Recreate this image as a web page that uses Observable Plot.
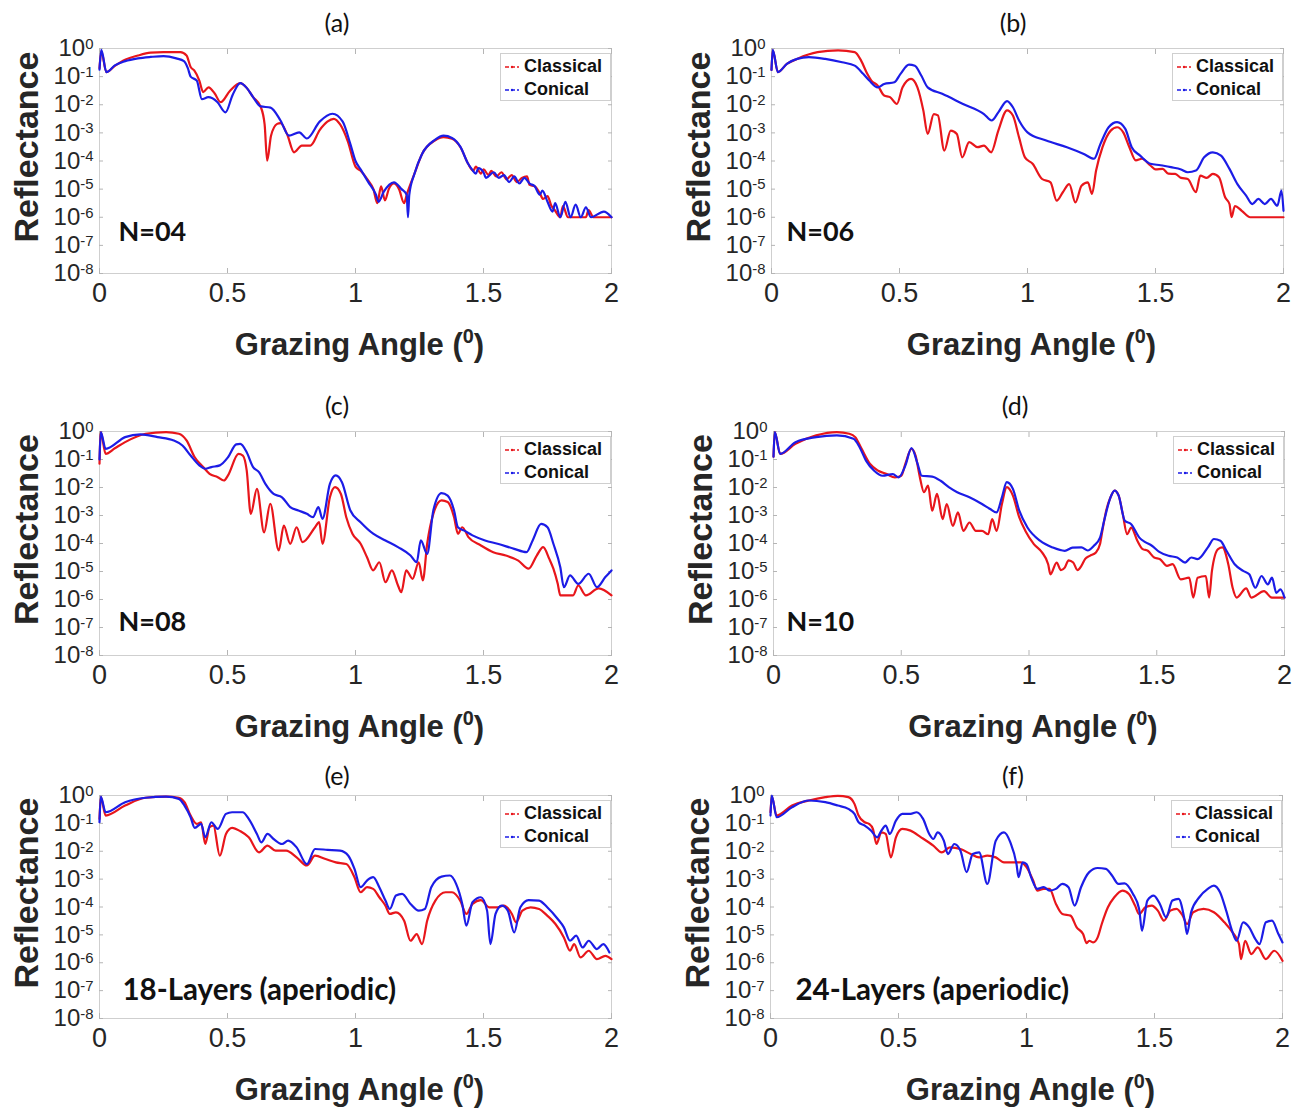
<!DOCTYPE html>
<html><head><meta charset="utf-8">
<script src="https://cdn.jsdelivr.net/npm/d3@7"></script>
<script src="https://cdn.jsdelivr.net/npm/@observablehq/plot@0.6"></script>
<style>
body{margin:0;background:#fff;}
#fig{position:relative;width:1301px;height:1111px;overflow:hidden;background:#fff;}
#fig svg.panel{position:absolute;overflow:visible;}
.ptitle{position:absolute;font-family:Lato,"Open Sans",sans-serif;font-size:25px;color:#111;transform:translate(-50%,-50%);white-space:nowrap;}
.legend{position:absolute;box-sizing:border-box;border:1px solid #cfcfcf;background:#fff;font-family:"Liberation Sans",Arial,sans-serif;font-weight:bold;font-size:18px;color:#111;padding:1px 3px;}
.legend .row{display:flex;align-items:center;height:23px;}
.legend svg{margin-right:4px;}
</style></head><body><div id="fig"></div><script>
// ---- data: [grazing angle (deg), log10(reflectance)] ----
const aClassical = [[0,-0.7],[0.007,-0.1],[0.027,-0.84],[0.06,-0.62],[0.1,-0.4],[0.15,-0.25],[0.2,-0.15],[0.25,-0.13],[0.316,-0.13],[0.34,-0.25],[0.356,-0.66],[0.37,-0.78],[0.39,-1.14],[0.405,-1.55],[0.426,-1.38],[0.45,-1.6],[0.473,-1.91],[0.51,-1.5],[0.55,-1.23],[0.575,-1.4],[0.6,-1.73],[0.63,-2.08],[0.645,-2.7],[0.655,-3.99],[0.67,-3.1],[0.694,-2.68],[0.707,-2.65],[0.733,-3.05],[0.76,-3.69],[0.79,-3.45],[0.824,-3.45],[0.86,-2.9],[0.89,-2.6],[0.915,-2.5],[0.94,-2.7],[0.97,-3.3],[1.0,-4.2],[1.02,-4.35],[1.05,-4.7],[1.07,-5.0],[1.085,-5.5],[1.1,-4.9],[1.115,-5.4],[1.13,-5.0],[1.15,-4.8],[1.17,-5.0],[1.19,-5.5],[1.2,-5.2],[1.23,-4.46],[1.26,-3.75],[1.31,-3.27],[1.344,-3.15],[1.377,-3.21],[1.41,-3.51],[1.44,-4.1],[1.46,-4.35],[1.47,-4.2],[1.49,-4.45],[1.5,-4.3],[1.52,-4.5],[1.53,-4.35],[1.55,-4.55],[1.57,-4.4],[1.59,-4.65],[1.61,-4.5],[1.63,-4.75],[1.65,-4.6],[1.67,-4.55],[1.68,-4.85],[1.7,-4.9],[1.72,-5.15],[1.733,-5.35],[1.75,-5.25],[1.765,-5.59],[1.78,-5.77],[1.8,-6],[1.81,-5.6],[1.83,-6],[1.9,-6],[1.91,-5.75],[1.93,-6],[2,-6]];
const aConical = [[0,-0.75],[0.007,-0.05],[0.027,-0.84],[0.06,-0.6],[0.1,-0.45],[0.15,-0.35],[0.2,-0.3],[0.25,-0.27],[0.3,-0.35],[0.33,-0.45],[0.345,-0.7],[0.356,-1.0],[0.38,-1.14],[0.4,-1.8],[0.425,-1.73],[0.46,-1.9],[0.492,-2.27],[0.52,-1.65],[0.55,-1.23],[0.575,-1.4],[0.6,-1.73],[0.63,-2.06],[0.668,-2.1],[0.707,-2.56],[0.74,-3.1],[0.78,-2.98],[0.81,-3.2],[0.86,-2.6],[0.91,-2.32],[0.95,-2.6],[0.98,-3.4],[1.0,-4.0],[1.02,-4.3],[1.05,-4.75],[1.08,-5.2],[1.09,-5.45],[1.11,-5.1],[1.15,-4.76],[1.18,-5.0],[1.2,-5.2],[1.205,-6.0],[1.21,-5.2],[1.23,-4.46],[1.26,-3.75],[1.31,-3.25],[1.344,-3.1],[1.377,-3.18],[1.41,-3.5],[1.44,-4.1],[1.455,-4.3],[1.47,-4.45],[1.48,-4.25],[1.5,-4.4],[1.51,-4.6],[1.54,-4.4],[1.56,-4.6],[1.58,-4.5],[1.6,-4.75],[1.62,-4.55],[1.64,-4.8],[1.66,-4.6],[1.68,-4.8],[1.7,-4.9],[1.72,-5.2],[1.73,-5.05],[1.75,-5.45],[1.77,-5.8],[1.78,-5.5],[1.8,-6],[1.82,-5.45],[1.84,-6],[1.86,-5.55],[1.88,-6],[1.9,-5.65],[1.92,-6],[1.97,-5.8],[2,-6]];

const bClassical = [[0,-0.76],[0.005,-0.07],[0.025,-0.84],[0.06,-0.55],[0.1,-0.37],[0.18,-0.13],[0.26,-0.07],[0.325,-0.13],[0.35,-0.43],[0.374,-0.9],[0.39,-1.14],[0.415,-1.32],[0.44,-1.67],[0.463,-1.73],[0.49,-1.97],[0.512,-1.38],[0.545,-1.08],[0.57,-1.38],[0.593,-2.2],[0.61,-3.04],[0.634,-2.33],[0.65,-2.38],[0.675,-3.63],[0.7,-2.92],[0.724,-3.04],[0.745,-3.87],[0.772,-3.33],[0.805,-3.51],[0.83,-3.45],[0.858,-3.69],[0.886,-2.92],[0.92,-2.2],[0.943,-2.38],[0.967,-3.16],[0.99,-3.87],[1.02,-4.1],[1.057,-4.64],[1.09,-4.76],[1.114,-5.41],[1.138,-5.11],[1.163,-4.82],[1.187,-5.47],[1.211,-4.88],[1.236,-4.76],[1.252,-5.17],[1.268,-4.34],[1.293,-3.51],[1.325,-2.92],[1.35,-2.8],[1.374,-2.98],[1.398,-3.51],[1.423,-3.98],[1.447,-3.92],[1.48,-4.16],[1.5,-4.3],[1.528,-4.28],[1.55,-4.45],[1.577,-4.46],[1.6,-4.6],[1.626,-4.64],[1.658,-5.11],[1.675,-4.52],[1.7,-4.6],[1.724,-4.46],[1.748,-4.58],[1.772,-5.29],[1.789,-5.53],[1.797,-6.0],[1.81,-5.6],[1.837,-5.77],[1.87,-6.0],[2,-6.0]];
const bConical = [[0,-0.76],[0.005,-0.05],[0.025,-0.84],[0.06,-0.55],[0.1,-0.37],[0.146,-0.31],[0.21,-0.37],[0.276,-0.49],[0.325,-0.61],[0.358,-0.9],[0.382,-1.14],[0.415,-1.38],[0.44,-1.26],[0.48,-1.2],[0.504,-0.9],[0.537,-0.57],[0.56,-0.61],[0.585,-0.96],[0.61,-1.38],[0.667,-1.61],[0.748,-1.97],[0.83,-2.33],[0.86,-2.56],[0.886,-2.27],[0.92,-1.87],[0.943,-2.09],[0.967,-2.56],[1.0,-2.98],[1.073,-3.27],[1.154,-3.51],[1.22,-3.75],[1.26,-3.92],[1.285,-3.39],[1.317,-2.8],[1.35,-2.62],[1.382,-2.86],[1.407,-3.51],[1.44,-3.81],[1.48,-4.1],[1.52,-4.15],[1.56,-4.22],[1.6,-4.3],[1.626,-4.4],[1.658,-4.34],[1.69,-3.87],[1.724,-3.69],[1.756,-3.81],[1.789,-4.28],[1.82,-4.82],[1.854,-5.23],[1.878,-5.53],[1.902,-5.35],[1.927,-5.53],[1.951,-5.35],[1.976,-5.59],[1.992,-5.05],[2,-5.77]];

const cClassical = [[0,-1.15],[0.005,-0.02],[0.024,-0.8],[0.06,-0.6],[0.1,-0.38],[0.18,-0.08],[0.26,-0.02],[0.31,-0.08],[0.34,-0.32],[0.372,-0.92],[0.405,-1.27],[0.43,-1.51],[0.462,-1.63],[0.486,-1.75],[0.502,-1.57],[0.543,-0.8],[0.56,-0.86],[0.575,-1.39],[0.591,-2.94],[0.615,-2.05],[0.643,-3.6],[0.667,-2.58],[0.7,-4.25],[0.72,-3.36],[0.745,-4.01],[0.77,-3.42],[0.793,-3.95],[0.842,-3.42],[0.858,-3.24],[0.871,-4.01],[0.9,-2.35],[0.92,-1.99],[0.943,-2.23],[0.964,-3.06],[0.988,-3.65],[1.02,-4.01],[1.045,-4.49],[1.069,-4.96],[1.093,-4.67],[1.117,-5.38],[1.142,-4.96],[1.166,-5.5],[1.179,-5.74],[1.198,-4.96],[1.223,-5.26],[1.247,-4.67],[1.263,-5.32],[1.28,-4.01],[1.304,-2.94],[1.336,-2.46],[1.36,-2.52],[1.385,-3.06],[1.4,-3.65],[1.417,-3.42],[1.441,-3.77],[1.49,-4.07],[1.538,-4.31],[1.587,-4.43],[1.636,-4.61],[1.676,-4.9],[1.708,-4.43],[1.733,-4.13],[1.757,-4.55],[1.773,-4.9],[1.79,-5.44],[1.8,-5.85],[1.85,-5.85],[1.87,-5.5],[1.9,-5.85],[1.95,-5.6],[2,-5.85]];
const cConical = [[0,-1.0],[0.005,-0.02],[0.024,-0.62],[0.1,-0.2],[0.16,-0.1],[0.227,-0.2],[0.29,-0.32],[0.324,-0.5],[0.356,-0.86],[0.39,-1.21],[0.413,-1.33],[0.437,-1.27],[0.47,-1.21],[0.502,-0.92],[0.534,-0.46],[0.55,-0.44],[0.575,-0.74],[0.6,-1.27],[0.623,-1.45],[0.648,-1.87],[0.68,-2.23],[0.713,-2.35],[0.745,-2.7],[0.777,-2.82],[0.81,-2.94],[0.834,-3.06],[0.855,-2.7],[0.871,-3.12],[0.9,-1.87],[0.923,-1.57],[0.947,-1.81],[0.98,-2.82],[1.02,-3.24],[1.069,-3.65],[1.117,-3.89],[1.166,-4.13],[1.215,-4.43],[1.239,-4.67],[1.255,-3.89],[1.28,-4.37],[1.304,-2.82],[1.336,-2.2],[1.36,-2.29],[1.385,-2.82],[1.4,-3.42],[1.425,-3.54],[1.457,-3.71],[1.506,-3.89],[1.555,-4.01],[1.62,-4.19],[1.668,-4.31],[1.692,-3.89],[1.725,-3.3],[1.75,-3.42],[1.773,-4.01],[1.8,-4.85],[1.814,-5.56],[1.838,-5.14],[1.87,-5.44],[1.911,-5.08],[1.943,-5.56],[1.976,-5.2],[2,-4.96]];

const dClassical = [[0,-0.9],[0.005,-0.02],[0.026,-0.8],[0.086,-0.44],[0.167,-0.14],[0.248,-0.02],[0.297,-0.08],[0.32,-0.2],[0.345,-0.62],[0.378,-1.16],[0.41,-1.4],[0.443,-1.52],[0.475,-1.64],[0.5,-1.58],[0.516,-1.16],[0.54,-0.62],[0.556,-0.86],[0.573,-1.64],[0.589,-2.17],[0.605,-1.93],[0.621,-2.83],[0.64,-2.23],[0.662,-3.13],[0.678,-2.59],[0.702,-3.37],[0.722,-2.89],[0.743,-3.55],[0.767,-3.25],[0.792,-3.55],[0.816,-3.55],[0.84,-3.67],[0.856,-3.13],[0.873,-3.55],[0.894,-2.59],[0.913,-1.99],[0.937,-2.29],[0.962,-3.07],[0.986,-3.55],[1.019,-4.02],[1.051,-4.32],[1.075,-4.74],[1.084,-5.1],[1.108,-4.68],[1.125,-4.95],[1.14,-4.86],[1.155,-4.6],[1.173,-4.68],[1.19,-4.95],[1.205,-4.8],[1.22,-4.55],[1.238,-4.44],[1.262,-4.32],[1.278,-4.02],[1.286,-3.61],[1.302,-2.83],[1.319,-2.35],[1.335,-2.11],[1.351,-2.29],[1.367,-2.95],[1.384,-3.67],[1.4,-3.43],[1.424,-3.9],[1.445,-4.2],[1.465,-4.26],[1.49,-4.5],[1.513,-4.56],[1.54,-4.8],[1.562,-4.74],[1.594,-5.28],[1.627,-5.22],[1.643,-5.93],[1.66,-5.22],[1.692,-5.16],[1.705,-5.93],[1.716,-4.98],[1.74,-4.2],[1.757,-4.14],[1.78,-4.74],[1.797,-5.58],[1.813,-5.93],[1.85,-5.6],[1.87,-5.93],[1.92,-5.7],[1.95,-5.93],[2,-5.93]];
const dConical = [[0,-0.9],[0.005,-0.02],[0.026,-0.8],[0.086,-0.38],[0.167,-0.2],[0.248,-0.14],[0.313,-0.26],[0.337,-0.56],[0.362,-1.04],[0.394,-1.4],[0.427,-1.58],[0.467,-1.52],[0.49,-1.64],[0.516,-1.22],[0.54,-0.59],[0.564,-1.16],[0.58,-1.58],[0.621,-1.61],[0.654,-1.76],[0.686,-1.99],[0.719,-2.17],[0.767,-2.35],[0.816,-2.59],[0.848,-2.77],[0.873,-2.89],[0.894,-2.35],[0.913,-1.81],[0.937,-2.05],[0.962,-2.83],[0.994,-3.43],[1.043,-3.9],[1.092,-4.14],[1.14,-4.26],[1.17,-4.15],[1.205,-4.14],[1.23,-4.25],[1.254,-4.08],[1.278,-3.79],[1.294,-3.19],[1.319,-2.35],[1.335,-2.11],[1.351,-2.29],[1.375,-3.19],[1.4,-3.31],[1.432,-3.79],[1.455,-3.95],[1.481,-4.08],[1.51,-4.3],[1.546,-4.44],[1.58,-4.5],[1.611,-4.68],[1.635,-4.5],[1.66,-4.56],[1.7,-4.14],[1.724,-3.84],[1.749,-3.9],[1.773,-4.26],[1.805,-4.74],[1.838,-4.98],[1.862,-5.1],[1.886,-5.58],[1.91,-5.16],[1.935,-5.46],[1.951,-5.22],[1.968,-5.76],[1.984,-5.64],[2,-5.93]];

const eClassical = [[0,-0.84],[0.005,-0.06],[0.024,-0.72],[0.1,-0.36],[0.18,-0.08],[0.26,-0.04],[0.31,-0.08],[0.332,-0.24],[0.356,-0.72],[0.38,-1.02],[0.397,-0.96],[0.413,-1.74],[0.43,-1.14],[0.445,-1.08],[0.47,-2.16],[0.494,-1.38],[0.518,-1.16],[0.55,-1.28],[0.583,-1.5],[0.623,-2.04],[0.656,-1.8],[0.688,-1.98],[0.729,-1.98],[0.77,-2.22],[0.81,-2.51],[0.842,-2.16],[0.883,-2.28],[0.923,-2.4],[0.964,-2.46],[0.996,-2.93],[1.02,-3.47],[1.045,-3.29],[1.069,-3.35],[1.093,-3.65],[1.117,-3.95],[1.134,-4.25],[1.158,-4.19],[1.19,-4.49],[1.215,-5.21],[1.239,-4.97],[1.26,-5.33],[1.28,-4.49],[1.312,-3.77],[1.352,-3.47],[1.377,-3.47],[1.409,-3.77],[1.433,-4.25],[1.457,-3.89],[1.49,-3.75],[1.522,-4.01],[1.555,-4.01],[1.579,-3.95],[1.611,-4.25],[1.627,-4.55],[1.652,-4.13],[1.684,-4.01],[1.717,-4.07],[1.749,-4.31],[1.781,-4.61],[1.814,-5.09],[1.838,-5.57],[1.854,-5.33],[1.879,-5.81],[1.911,-5.57],[1.943,-5.87],[1.976,-5.75],[2,-5.87]];
const eConical = [[0,-0.96],[0.005,-0.04],[0.024,-0.6],[0.1,-0.24],[0.18,-0.08],[0.26,-0.04],[0.31,-0.12],[0.332,-0.36],[0.356,-0.78],[0.372,-1.16],[0.397,-1.02],[0.413,-1.5],[0.437,-0.96],[0.462,-1.2],[0.494,-0.66],[0.518,-0.6],[0.559,-0.6],[0.583,-0.84],[0.615,-1.38],[0.632,-1.68],[0.656,-1.38],[0.68,-1.56],[0.713,-1.74],[0.737,-1.62],[0.77,-1.86],[0.81,-2.46],[0.842,-1.92],[0.891,-1.95],[0.94,-1.98],[0.972,-2.16],[0.996,-2.63],[1.02,-3.29],[1.045,-3.05],[1.069,-2.93],[1.093,-3.29],[1.117,-3.77],[1.134,-4.07],[1.158,-3.59],[1.182,-3.53],[1.215,-3.89],[1.247,-4.13],[1.271,-4.07],[1.296,-3.29],[1.336,-2.91],[1.369,-2.87],[1.393,-3.17],[1.417,-3.89],[1.433,-4.67],[1.457,-3.83],[1.49,-3.65],[1.514,-4.13],[1.527,-5.33],[1.547,-4.25],[1.571,-3.95],[1.595,-4.13],[1.62,-4.91],[1.644,-4.01],[1.676,-3.75],[1.717,-3.77],[1.749,-4.01],[1.79,-4.43],[1.814,-4.73],[1.838,-5.21],[1.862,-5.03],[1.887,-5.45],[1.911,-5.21],[1.943,-5.51],[1.968,-5.33],[1.992,-5.63]];

const fClassical = [[0,-0.6],[0.005,-0.04],[0.024,-0.72],[0.084,-0.36],[0.15,-0.18],[0.214,-0.06],[0.263,-0.01],[0.304,-0.06],[0.328,-0.3],[0.344,-0.72],[0.368,-0.96],[0.385,-1.02],[0.4,-1.2],[0.414,-1.74],[0.433,-1.32],[0.45,-1.38],[0.47,-2.22],[0.49,-1.5],[0.515,-1.2],[0.547,-1.26],[0.588,-1.5],[0.636,-1.8],[0.669,-2.04],[0.701,-1.86],[0.742,-1.92],[0.782,-2.1],[0.815,-2.22],[0.847,-2.16],[0.88,-2.22],[0.912,-2.4],[0.945,-2.4],[0.977,-2.4],[1.0,-2.57],[1.026,-3.05],[1.042,-3.41],[1.067,-3.35],[1.09,-3.35],[1.115,-3.89],[1.14,-4.25],[1.172,-4.31],[1.196,-4.73],[1.221,-4.97],[1.235,-5.3],[1.245,-5.21],[1.261,-5.27],[1.278,-5.09],[1.294,-4.61],[1.318,-4.01],[1.343,-3.65],[1.375,-3.41],[1.4,-3.53],[1.424,-3.95],[1.44,-4.25],[1.464,-4.01],[1.489,-3.95],[1.513,-4.13],[1.537,-4.49],[1.562,-4.13],[1.586,-4.07],[1.61,-4.31],[1.627,-4.61],[1.651,-4.19],[1.692,-4.07],[1.732,-4.19],[1.773,-4.55],[1.805,-4.91],[1.83,-5.33],[1.838,-5.87],[1.854,-5.21],[1.878,-5.69],[1.903,-5.45],[1.935,-5.87],[1.968,-5.57],[2,-5.93]];
const fConical = [[0,-0.72],[0.005,0],[0.024,-0.78],[0.084,-0.42],[0.15,-0.18],[0.214,-0.24],[0.263,-0.36],[0.304,-0.48],[0.328,-0.66],[0.344,-0.96],[0.368,-1.08],[0.393,-1.26],[0.417,-1.5],[0.433,-1.26],[0.45,-1.08],[0.466,-1.38],[0.49,-0.9],[0.515,-0.66],[0.547,-0.66],[0.571,-0.6],[0.596,-0.84],[0.62,-1.38],[0.636,-1.56],[0.653,-1.32],[0.677,-1.62],[0.693,-2.1],[0.718,-1.74],[0.742,-1.98],[0.766,-2.75],[0.79,-2.1],[0.815,-2.04],[0.847,-3.17],[0.88,-1.62],[0.912,-1.32],[0.937,-1.68],[0.961,-2.46],[0.969,-2.93],[0.985,-2.4],[1.0,-2.46],[1.018,-2.93],[1.042,-3.35],[1.067,-3.29],[1.09,-3.41],[1.115,-3.35],[1.14,-3.17],[1.164,-3.29],[1.188,-3.95],[1.213,-3.29],[1.245,-2.75],[1.278,-2.6],[1.31,-2.63],[1.334,-2.87],[1.359,-3.17],[1.383,-3.15],[1.416,-3.53],[1.44,-4.07],[1.451,-4.85],[1.472,-3.77],[1.497,-3.59],[1.521,-3.89],[1.545,-4.37],[1.57,-3.77],[1.594,-3.71],[1.618,-4.49],[1.627,-4.97],[1.643,-4.19],[1.675,-3.65],[1.708,-3.35],[1.732,-3.23],[1.756,-3.47],[1.78,-4.13],[1.805,-4.91],[1.821,-5.21],[1.846,-4.55],[1.87,-4.73],[1.894,-5.15],[1.91,-5.33],[1.935,-4.55],[1.959,-4.49],[1.984,-4.97],[2,-5.27]];

const panelTitles = ["(a)","(b)","(c)","(d)","(e)","(f)"];
const panelNotes = ["N=04","N=06","N=08","N=10","18-Layers (aperiodic)","24-Layers (aperiodic)"];
const seriesNames = ["Classical","Conical"];
const xTicks = [0, 0.5, 1, 1.5, 2];
const xTickLabels = ["0","0.5","1","1.5","2"];
const yTickExponents = [-8,-7,-6,-5,-4,-3,-2,-1,0];
const yTickLabels = ["10^-8","10^-7","10^-6","10^-5","10^-4","10^-3","10^-2","10^-1","10^0"];
const xLabel = "Grazing Angle (^{0})";
const yLabel = "Reflectance";

// ---- layout ----
const RED = "#e8161b", BLUE = "#1c1ce6";
const seriesData = [[aClassical,aConical],[bClassical,bConical],[cClassical,cConical],[dClassical,dConical],[eClassical,eConical],[fClassical,fConical]];
// frame boxes in page pixels: [left, right, top, bottom]
const boxes = [[99,611,48,273],[771,1283,48,273],[99,611,431,655],[773,1284,431,655],[99,611,795,1018],[770,1282,795,1018]];
const titlePos = [[337,22],[1013,22],[337,405],[1015,405],[337,775],[1013,775]];
const notePos = [[19,-41,27],[15,-41,27],[19,-33,27],[13,-33,27],[23,-28,29.5],[25,-28,29.5]];

const yTicks = yTickExponents.map(e => Math.pow(10, e));
const yLabelOf = new Map(yTicks.map((v, i) => [v, yTickLabels[i]]));
const xLabelOf = new Map(xTicks.map((v, i) => [v, xTickLabels[i]]));
const fig = document.getElementById("fig");
const SVGNS = "http://www.w3.org/2000/svg";

function supify(svg, isTick) {
  svg.querySelectorAll("text").forEach(t => {
    const s = t.textContent;
    const m = s.match(/^(.*?)\^\{?([^}]*?)\}?(\)?)$/);
    if (!m) return;
    while (t.firstChild) t.removeChild(t.firstChild);
    t.appendChild(document.createTextNode(m[1]));
    const sup = document.createElementNS(SVGNS, "tspan");
    const tick = !m[3];
    sup.setAttribute("dy", tick ? "-0.5em" : "-0.62em");
    sup.setAttribute("font-size", tick ? "0.62em" : "0.64em");
    sup.textContent = m[2];
    t.appendChild(sup);
    if (m[3]) {
      const rest = document.createElementNS(SVGNS, "tspan");
      rest.setAttribute("dy", "0.4em");
      rest.textContent = m[3];
      t.appendChild(rest);
    }
  });
}

seriesData.forEach((pair, i) => {
  const [bx0, bx1, by0, by1] = boxes[i];
  const left = i % 2 === 0 ? 0 : 650;
  const width = i % 2 === 0 ? 640 : 645;
  const top = by0 - 8;
  const mb = i >= 4 ? 90 : 100;
  const height = 8 + (by1 - by0) + mb;
  const rows = seriesNames.flatMap((name, k) => pair[k].map(([a, lg]) => ({series: name, angle: a, R: Math.pow(10, lg)})));
  const plot = Plot.plot({
    width, height,
    marginLeft: bx0 - left, marginRight: left + width - bx1,
    marginTop: 8, marginBottom: mb,
    style: {fontFamily: "'Liberation Sans', Arial, sans-serif", color: "#262626", background: "transparent", overflow: "visible"},
    x: {domain: [0, 2]},
    y: {type: "log", domain: [1e-8, 1]},
    color: {domain: seriesNames, range: [RED, BLUE]},
    marks: [
      Plot.frame({stroke: "#cfcfcf"}),
      Plot.axisX({ticks: xTicks, tickSize: 0, tickPadding: 9, fontSize: 27, tickFormat: d => xLabelOf.get(d), label: null}),
      Plot.axisX({ticks: xTicks, tickSize: -5, tickFormat: () => "", label: null, stroke: "#b5b5b5"}),
      Plot.axisX({anchor: "top", ticks: xTicks, tickSize: -5, tickFormat: () => "", label: null, stroke: "#b5b5b5"}),
      Plot.axisY({ticks: yTicks, tickSize: 0, tickPadding: 6, fontSize: 24, tickFormat: d => yLabelOf.get(d), label: null}),
      Plot.axisY({ticks: yTicks, tickSize: -4, tickFormat: () => "", label: null, stroke: "#b5b5b5"}),
      Plot.axisY({anchor: "right", ticks: yTicks, tickSize: -4, tickFormat: () => "", label: null, stroke: "#b5b5b5"}),
      Plot.line(rows, {x: "angle", y: "R", z: "series", stroke: "series", strokeWidth: 2.2, strokeLinejoin: "round", curve: "monotone-x"}),
      Plot.text([xLabel], {frameAnchor: "bottom", dx: 4, dy: 72, textAnchor: "middle", lineAnchor: "middle", fontSize: 31, fontWeight: "bold", fill: "#262626"}),
      Plot.text([yLabel], {frameAnchor: "left", rotate: -90, dx: -72, dy: -14, textAnchor: "middle", lineAnchor: "middle", fontSize: 34, fontWeight: "bold", fill: "#262626"}),
      Plot.text([panelNotes[i]], {frameAnchor: "bottom-left", dx: notePos[i][0], dy: notePos[i][1], textAnchor: "start", lineAnchor: "middle", fontFamily: "Lato, 'Open Sans', sans-serif", fontWeight: "bold", fontSize: notePos[i][2], fill: "#111"})
    ]
  });
  plot.classList.add("panel");
  plot.style.left = left + "px";
  plot.style.top = top + "px";
  supify(plot);
  fig.appendChild(plot);

  const t = document.createElement("div");
  t.className = "ptitle";
  t.textContent = panelTitles[i];
  t.style.left = titlePos[i][0] + "px";
  t.style.top = titlePos[i][1] + "px";
  fig.appendChild(t);

  const lg = document.createElement("div");
  lg.className = "legend";
  lg.style.left = (bx1 - 111) + "px";
  lg.style.top = (by0 + 5) + "px";
  lg.style.width = "111px";
  lg.style.height = "48px";
  seriesNames.forEach((name, k) => {
    const row = document.createElement("div");
    row.className = "row";
    const c = k === 0 ? RED : BLUE;
    row.innerHTML = `<svg width="16" height="8"><line x1="1" x2="15" y1="4" y2="4" stroke="${c}" stroke-width="1.3" stroke-dasharray="4 2"/><circle cx="8" cy="4" r="1.2" fill="${c}"/></svg><span>${name}</span>`;
    lg.appendChild(row);
  });
  fig.appendChild(lg);
});
</script></body></html>
